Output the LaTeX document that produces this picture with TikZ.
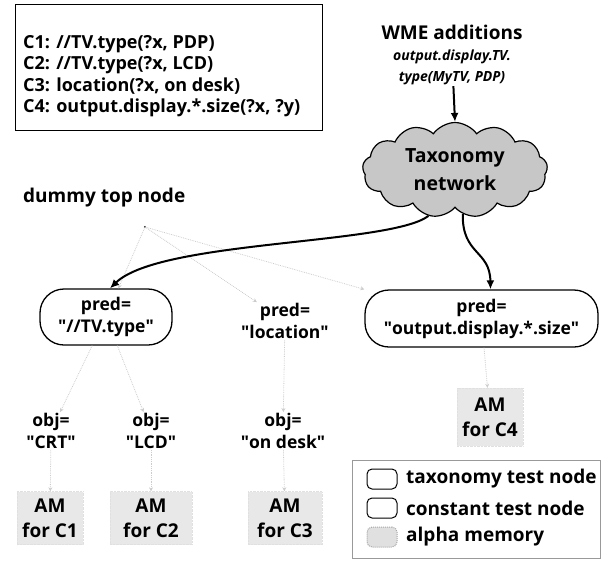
\documentclass[tikz,border=0pt]{standalone}
\usepackage{fontspec}
\setmainfont{Open Sans}
\usetikzlibrary{shapes.symbols,arrows.meta}
\newcommand{\qq}[1]{\textquotedbl#1\textquotedbl}
\begin{document}
\begin{tikzpicture}[x=1pt,y=-1pt,
  lbl/.style={font=\fontsize{17.5}{22}\selectfont\bfseries, align=center, inner sep=1pt},
  taxnode/.style={lbl, draw, line width=1.3pt, rounded corners=24pt},
  amnode/.style={lbl, font=\fontsize{19}{25}\selectfont\bfseries, fill=black!9, draw=black!12, densely dotted},
  mainarrow/.style={line width=2pt, -{Latex[length=9pt,width=8pt]}},
  faint/.style={draw=black!20, densely dotted, line width=0.8pt, -{Stealth[length=4pt,width=4pt]}},
  legsym/.style={draw, line width=1pt, rounded corners=5pt, minimum width=30pt, minimum height=20pt, inner sep=0pt},
  legtxt/.style={anchor=west, font=\fontsize{19}{22}\selectfont\bfseries, inner sep=0pt}
]
\useasboundingbox (0,0) rectangle (602,560);

% conditions
\node[draw, line width=1pt, minimum width=307pt, minimum height=126pt] (cond) at (168.5,67) {};
\node[anchor=north west, align=left, inner sep=0pt,
      font=\fontsize{18}{21.5}\selectfont\bfseries] (condtxt) at (23,35)
  {C1: //TV.type(?x, PDP)\\
   C2: //TV.type(?x, LCD)\\
   C3: location(?x, on desk)\\
   C4: output.display.*.size(?x, ?y)};

% incoming working-memory elements
\node[align=center, inner sep=1pt, font=\fontsize{14}{21}\selectfont\bfseries] (wme) at (452,55)
  {{\fontsize{19}{21}\selectfont WME additions}\\
   \itshape output.display.TV.\\
   \itshape type(MyTV, PDP)};

% taxonomy network
\node[cloud, cloud puffs=13, cloud puff arc=110, draw, line width=1.2pt, fill=black!22,
      minimum width=185pt, minimum height=95pt, aspect=2, lbl,
      font=\fontsize{19.5}{28}\selectfont\bfseries] (tax) at (455,170)
  {Taxonomy\\network};

% dummy top node
\node[anchor=west, font=\fontsize{19}{21}\selectfont\bfseries, inner sep=0pt] (dummylbl) at (23,198) {dummy top node};
\fill (145,227) circle (1.2pt);
\coordinate (dtop) at (145,227);

% predicate test nodes
\node[taxnode, minimum width=132pt, minimum height=56pt] (p1) at (106,317) {pred=\\\qq{//TV.type}};
\node[lbl] (p2) at (285,321) {pred=\\\qq{location}};
\node[taxnode, minimum width=233pt, minimum height=57pt] (p3) at (481.5,318.5) {pred=\\\qq{output.display.*.size}};

% object test nodes
\node[lbl] (o1) at (51,431) {obj=\\\qq{CRT}};
\node[lbl] (o2) at (151,431) {obj=\\\qq{LCD}};
\node[lbl] (o3) at (283,431) {obj=\\\qq{on desk}};

% alpha memories
\node[amnode, minimum width=66pt, minimum height=53pt] (a1) at (50,518) {AM\\for C1};
\node[amnode, minimum width=82pt, minimum height=53pt] (a2) at (151,518) {AM\\for C2};
\node[amnode, minimum width=74pt, minimum height=53pt] (a3) at (285,518) {AM\\for C3};
\node[amnode, minimum width=66pt, minimum height=58pt] (a4) at (490,417) {AM\\for C4};

% faint links of the plain Rete network
\draw[faint] (dtop) -- (p1);
\draw[faint] (dtop) -- (p2);
\draw[faint] (dtop) -- (p3.north west);
\draw[faint] (p1) -- (o1);
\draw[faint] (p1) -- (o2);
\draw[faint] (p2) -- (o3);
\draw[faint] (o1) -- (a1);
\draw[faint] (o2) -- (a2);
\draw[faint] (o3) -- (a3);
\draw[faint] (p3) -- (a4);

% taxonomy links
\draw[mainarrow] (wme) -- (tax.north);
\draw[mainarrow] (tax.240) .. controls (390,245) and (160,240) .. ([xshift=4pt]p1.north);
\draw[mainarrow] (tax.280) .. controls (462,255) and (490,250) .. ([xshift=9pt]p3.north);

% legend
\node[draw=black!40, line width=0.8pt, minimum width=248pt, minimum height=98pt] (leg) at (476,509) {};
\node[legsym] (s1) at (382,479) {};
\node[legsym] (s2) at (382,508) {};
\node[legsym, fill=black!12, draw=black!35, densely dotted] (s3) at (382,537) {};
\node[legtxt] (t1) at (406,479) {taxonomy test node};
\node[legtxt] (t2) at (406,508) {constant test node};
\node[legtxt] (t3) at (406,537) {alpha memory};
\end{tikzpicture}
\end{document}
